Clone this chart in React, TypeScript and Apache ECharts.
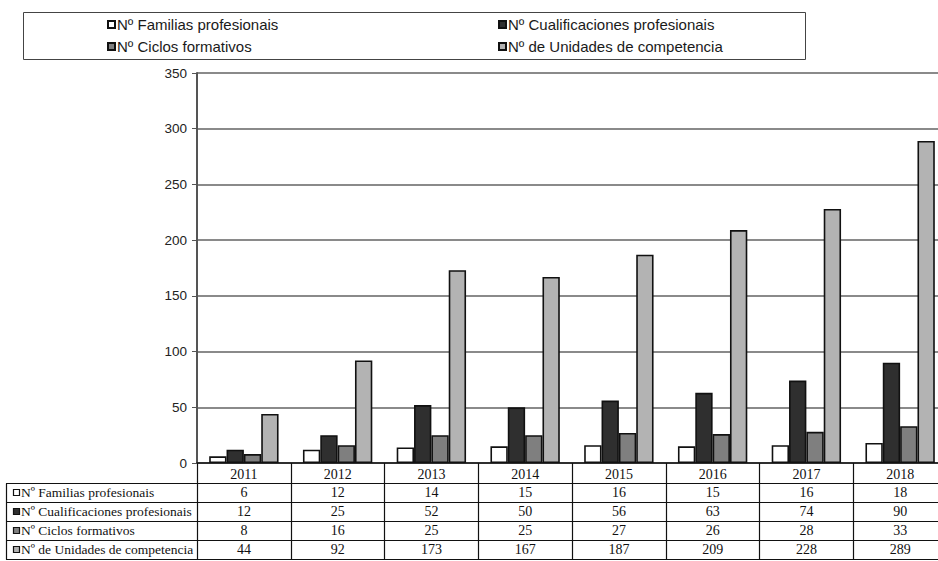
import React, { useEffect, useRef } from "react";
import * as echarts from "echarts";

// Years on the category axis and in the table header
const years = ["2011", "2012", "2013", "2014", "2015", "2016", "2017", "2018"];

// Series values (also printed in the data table)
const familias = [6, 12, 14, 15, 16, 15, 16, 18];
const cualificaciones = [12, 25, 52, 50, 56, 63, 74, 90];
const ciclos = [8, 16, 25, 25, 27, 26, 28, 33];
const unidades = [44, 92, 173, 167, 187, 209, 228, 289];

const seriesNames = [
  "Nº Familias profesionais",
  "Nº Cualificaciones profesionais",
  "Nº Ciclos formativos",
  "Nº de Unidades de competencia",
];
const seriesData = [familias, cualificaciones, ciclos, unidades];
const seriesColors = ["#ffffff", "#2f2f2f", "#7f7f7f", "#b3b3b3"];

// Value axis
const yMin = 0;
const yMax = 350;
const yStep = 50;

const SANS = "'Liberation Sans', Arial, sans-serif";
const SERIF = "'Liberation Serif', 'Times New Roman', serif";

// Legend item placement (2 x 2 inside a framed box)
const legendSlots = [
  { left: 107, top: 17 },
  { left: 498, top: 17 },
  { left: 107, top: 39 },
  { left: 498, top: 39 },
];

function buildTable(chart: echarts.ECharts) {
  const c0 = chart.convertToPixel({ xAxisIndex: 0 }, years[0]) as number;
  const c1 = chart.convertToPixel({ xAxisIndex: 0 }, years[1]) as number;
  const catW = c1 - c0;
  const last = chart.convertToPixel({ xAxisIndex: 0 }, years[years.length - 1]) as number;
  const rightEdge = last + catW / 2;
  const yZero = chart.convertToPixel({ yAxisIndex: 0 }, 0) as number;

  const rowH = 19;
  const top = yZero + 20;
  const labelLeft = 6;
  const els: any[] = [];

  for (let i = 0; i <= seriesNames.length; i++) {
    const y = Math.round(top + i * rowH) + 0.5;
    els.push({
      type: "line",
      shape: { x1: labelLeft, y1: y, x2: rightEdge, y2: y },
      style: { stroke: "#111", lineWidth: 1.2 },
      silent: true,
    });
  }
  els.push({
    type: "line",
    shape: { x1: labelLeft + 0.5, y1: Math.round(top) + 0.5, x2: labelLeft + 0.5, y2: Math.round(top + seriesNames.length * rowH) + 0.5 },
    style: { stroke: "#111", lineWidth: 1.2 },
    silent: true,
  });

  seriesNames.forEach((name, r) => {
    const cy = top + r * rowH + rowH / 2;
    els.push({
      type: "rect",
      shape: { x: 13.5, y: Math.round(cy - 3.5) + 0.5, width: 6, height: 6 },
      style: { fill: seriesColors[r], stroke: "#111", lineWidth: 1.2 },
      silent: true,
    });
    els.push({
      type: "text",
      x: 21,
      y: cy,
      style: {
        text: name,
        font: `13.5px ${SERIF}`,
        fill: "#111",
        textAlign: "left",
        textVerticalAlign: "middle",
      },
      silent: true,
    });
    seriesData[r].forEach((v, k) => {
      const cx = chart.convertToPixel({ xAxisIndex: 0 }, years[k]) as number;
      els.push({
        type: "text",
        x: cx,
        y: cy,
        style: {
          text: String(v),
          font: `14px ${SERIF}`,
          fill: "#111",
          textAlign: "center",
          textVerticalAlign: "middle",
        },
        silent: true,
      });
    });
  });

  // frame around the legend
  els.push({
    type: "rect",
    shape: { x: 23.5, y: 12.5, width: 782, height: 47 },
    style: { fill: "none", stroke: "#444", lineWidth: 1 },
    silent: true,
  });

  chart.setOption({ graphic: els });
}

export default function App() {
  const ref = useRef<HTMLDivElement>(null);

  useEffect(() => {
    if (!ref.current) return;
    const chart = echarts.init(ref.current, undefined, { renderer: "svg" });

    const legends = seriesNames.map((name, i) => ({
      data: [name],
      left: legendSlots[i].left,
      top: legendSlots[i].top,
      padding: 0,
      icon: "rect",
      itemWidth: 7,
      itemHeight: 7,
      selectedMode: false,
      textStyle: { fontFamily: SANS, fontSize: 15, color: "#1a1a1a", padding: [0, 0, 0, -3] },
    }));

    chart.setOption({
      animation: false,
      backgroundColor: "#ffffff",
      legend: legends,
      grid: { left: 197, top: 73, width: 750, height: 390, containLabel: false },
      xAxis: {
        type: "category",
        data: years,
        axisLine: { lineStyle: { color: "#111", width: 1.5 } },
        axisTick: { show: true, length: 96, lineStyle: { color: "#111", width: 1.2 } },
        axisLabel: { fontFamily: SERIF, fontSize: 14, color: "#111", margin: 4 },
        splitLine: { show: false },
      },
      yAxis: {
        type: "value",
        min: yMin,
        max: yMax,
        interval: yStep,
        axisLine: { show: true, lineStyle: { color: "#555", width: 2 } },
        axisTick: { show: true, length: 5, lineStyle: { color: "#555", width: 1 } },
        axisLabel: { fontFamily: SANS, fontSize: 13.5, color: "#222", margin: 10 },
        splitLine: { lineStyle: { color: "#8a8a8a", width: 1.8 } },
      },
      series: seriesNames.map((name, i) => ({
        name,
        type: "bar",
        data: seriesData[i],
        barGap: "0%",
        barCategoryGap: "26%",
        itemStyle: { color: seriesColors[i], borderColor: "#111", borderWidth: 1.6 },
      })),
    });

    buildTable(chart);

    return () => chart.dispose();
  }, []);

  return (
    <div style={{ position: "fixed", left: 0, top: 0, width: 938, height: 561, overflow: "hidden", background: "#fff" }}>
      <div ref={ref} style={{ width: 960, height: 561 }} />
    </div>
  );
}
